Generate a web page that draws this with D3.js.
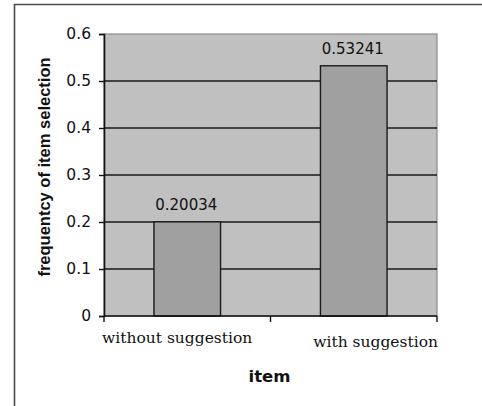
<!DOCTYPE html>
<html>
<head>
<meta charset="utf-8">
<script src="https://cdn.jsdelivr.net/npm/d3@7"></script>
<style>
    body { margin: 0; background: #fff; }
    svg { display: block; }
</style>
</head>
<body>
<svg id="chart" width="482" height="406"></svg>
<script>
// chart data
const categories = ["without suggestion", "with suggestion"];
const frequencies = [0.20034, 0.53241];
const valueLabels = ["0.20034", "0.53241"];
const yTicks = [0, 0.1, 0.2, 0.3, 0.4, 0.5, 0.6];
const yTickLabels = ["0", "0.1", "0.2", "0.3", "0.4", "0.5", "0.6"];

const svg = d3.select("#chart");
const plot = { left: 104, right: 437, top: 34, bottom: 316 };

// outer chart frame (only top + left show in the picture)
svg.append("path")
    .attr("d", "M14.5,406V4.5H482")
    .attr("fill", "none")
    .attr("stroke", "#4a4a4a")
    .attr("stroke-width", 1.6);

const y = d3.scaleLinear().domain([0, 0.6]).range([plot.bottom, plot.top]);
const xCat = d3.scaleBand().domain(categories).range([plot.left, plot.right]).padding(0);
const xBar = d3.scaleBand().domain(categories).range([plot.left, plot.right])
    .paddingInner(0.6).paddingOuter(0.3);

// plot background
svg.append("rect")
    .attr("x", plot.left).attr("y", plot.top)
    .attr("width", plot.right - plot.left).attr("height", plot.bottom - plot.top)
    .attr("fill", "#c0c0c0")
    .attr("stroke", "#8a8a8a")
    .attr("stroke-width", 1.2);

// gridlines
svg.append("g")
    .selectAll("line")
    .data(yTicks.filter(d => d > 0 && d < 0.6))
    .join("line")
    .attr("x1", plot.left).attr("x2", plot.right)
    .attr("y1", d => y(d)).attr("y2", d => y(d))
    .attr("stroke", "#1a1a1a")
    .attr("stroke-width", 1.4);

// bars
svg.append("g")
    .selectAll("rect")
    .data(categories)
    .join("rect")
    .attr("x", d => xBar(d))
    .attr("y", (d, i) => y(frequencies[i]))
    .attr("width", xBar.bandwidth())
    .attr("height", (d, i) => y(0) - y(frequencies[i]))
    .attr("fill", "#a0a0a0")
    .attr("stroke", "#1a1a1a")
    .attr("stroke-width", 1.4);

// value labels
svg.append("g")
    .selectAll("text")
    .data(categories)
    .join("text")
    .attr("x", d => xBar(d) + xBar.bandwidth() / 2 - 1)
    .attr("y", (d, i) => y(frequencies[i]) - 12)
    .attr("text-anchor", "middle")
    .attr("font-family", "'DejaVu Sans', sans-serif")
    .attr("font-size", 15)
    .attr("fill", "#111")
    .text((d, i) => valueLabels[i]);

// y axis
const yAxis = d3.axisLeft(y)
    .tickValues(yTicks)
    .tickFormat((d, i) => yTickLabels[i])
    .tickSize(5)
    .tickPadding(8);
const yg = svg.append("g")
    .attr("transform", `translate(${plot.left},0)`)
    .call(yAxis);
yg.select(".domain").attr("stroke", "#111").attr("stroke-width", 1.6);
yg.selectAll(".tick line").attr("stroke", "#111").attr("stroke-width", 1.4);
yg.selectAll(".tick text")
    .attr("font-family", "'DejaVu Sans', sans-serif")
    .attr("font-size", 15.5)
    .attr("fill", "#111");

// x axis: ticks sit on category boundaries
const xBounds = categories.map(d => xCat(d)).concat([plot.right]);
const xg = svg.append("g");
xg.append("line")
    .attr("x1", plot.left).attr("x2", plot.right)
    .attr("y1", plot.bottom).attr("y2", plot.bottom)
    .attr("stroke", "#111").attr("stroke-width", 1.6);
xg.selectAll("line.tick")
    .data(xBounds)
    .join("line")
    .attr("class", "tick")
    .attr("x1", d => d).attr("x2", d => d)
    .attr("y1", plot.bottom).attr("y2", plot.bottom + 6)
    .attr("stroke", "#111").attr("stroke-width", 1.4);

// category labels (too wide for the band, so Excel pins them to the edges)
xg.selectAll("text")
    .data(categories)
    .join("text")
    .attr("x", (d, i) => i === 0 ? xCat(d) - 2 : xCat(d) + xCat.bandwidth() + 1)
    .attr("y", (d, i) => plot.bottom + (i === 0 ? 27 : 31))
    .attr("text-anchor", (d, i) => i === 0 ? "start" : "end")
    .attr("font-family", "'DejaVu Serif', serif")
    .attr("font-size", 15.5)
    .attr("fill", "#111")
    .text(d => d);

// axis titles
svg.append("text")
    .attr("transform", `translate(50,${(plot.top + plot.bottom) / 2 - 8}) rotate(-90)`)
    .attr("text-anchor", "middle")
    .attr("font-family", "Arial, 'Liberation Sans', sans-serif")
    .attr("font-weight", "bold")
    .attr("font-size", 16.5)
    .attr("fill", "#111")
    .text("frequentcy of item selection");

svg.append("text")
    .attr("x", (plot.left + plot.right) / 2 - 1)
    .attr("y", 382)
    .attr("text-anchor", "middle")
    .attr("font-family", "'DejaVu Sans', sans-serif")
    .attr("font-weight", "bold")
    .attr("font-size", 16.5)
    .attr("fill", "#111")
    .text("item");
</script>
</body>
</html>
